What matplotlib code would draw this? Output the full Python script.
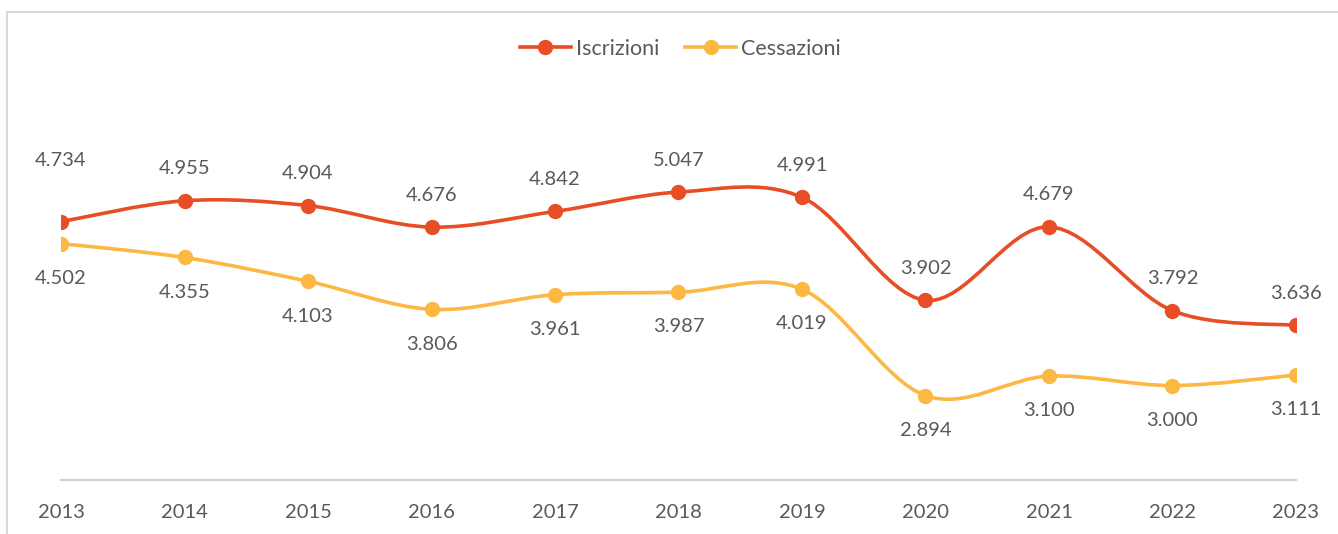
import matplotlib
matplotlib.use("Agg")
import matplotlib.pyplot as plt
from matplotlib.path import Path
from matplotlib.patches import PathPatch, Rectangle
from matplotlib.lines import Line2D

plt.rcParams['font.family'] = ['Lato', 'DejaVu Sans']

# data
years = [2013, 2014, 2015, 2016, 2017, 2018, 2019, 2020, 2021, 2022, 2023]
iscrizioni = [4734, 4955, 4904, 4676, 4842, 5047, 4991, 3902, 4679, 3792, 3636]
cessazioni = [4502, 4355, 4103, 3806, 3961, 3987, 4019, 2894, 3100, 3000, 3111]

col_isc = '#E84E25'
col_ces = '#FDB843'
txt_col = '#595959'


def smooth_path(xs, ys):
    # Excel-like smoothed line: cubic Bezier with Catmull-Rom control points
    n = len(xs)
    verts = [(xs[0], ys[0])]
    codes = [Path.MOVETO]
    for i in range(n - 1):
        i0 = max(i - 1, 0)
        i3 = min(i + 2, n - 1)
        c1 = (xs[i] + (xs[i + 1] - xs[i0]) / 6, ys[i] + (ys[i + 1] - ys[i0]) / 6)
        c2 = (xs[i + 1] - (xs[i3] - xs[i]) / 6, ys[i + 1] - (ys[i3] - ys[i]) / 6)
        verts += [c1, c2, (xs[i + 1], ys[i + 1])]
        codes += [Path.CURVE4] * 3
    return Path(verts, codes)


def fmt(v):
    return f"{v:,}".replace(",", ".")


fig = plt.figure(figsize=(13.38, 5.34), dpi=100)
ax = fig.add_axes([0.0456, 0.101, 0.923, 0.708])

for ys, c in [(iscrizioni, col_isc), (cessazioni, col_ces)]:
    ax.add_patch(PathPatch(smooth_path(years, ys), fill=False, ec=c, lw=2.6,
                           capstyle='round', zorder=2))
    ax.plot(years, ys, 'o', color=c, markersize=10, zorder=3)

# data labels
for i, (x, v) in enumerate(zip(years, iscrizioni)):
    off = 44 if i == 0 else 23
    ax.annotate(fmt(v), (x, v), xytext=(0, off), textcoords='offset points',
                ha='center', va='center', fontsize=14.5, color=txt_col)
for x, v in zip(years, cessazioni):
    ax.annotate(fmt(v), (x, v), xytext=(0, -25), textcoords='offset points',
                ha='center', va='center', fontsize=14.5, color=txt_col)

ax.set_xlim(2013, 2023)
ax.set_ylim(2000, 6000)
ax.set_xticks(years)
ax.set_xticklabels([str(y) for y in years])
ax.set_yticks([])
ax.tick_params(axis='x', length=0, pad=17, labelsize=14.5, labelcolor=txt_col)
for s in ['top', 'right', 'left']:
    ax.spines[s].set_visible(False)
ax.spines['bottom'].set_color('#D0D0D0')
ax.spines['bottom'].set_linewidth(1.5)

handles = [Line2D([], [], color=col_isc, lw=2.6, marker='o', markersize=10),
           Line2D([], [], color=col_ces, lw=2.6, marker='o', markersize=10)]
leg = fig.legend(handles, ['Iscrizioni', 'Cessazioni'], loc='center',
                 bbox_to_anchor=(680 / 1338, 1 - 49 / 534), ncol=2, frameon=False,
                 fontsize=15.5, handlelength=2.4, handletextpad=0.2, columnspacing=1.2)
for t in leg.get_texts():
    t.set_color(txt_col)

# chart frame
fig.add_artist(Rectangle((7 / 1338, -0.1), 1.2, 1.1 - 12 / 534, transform=fig.transFigure,
                         fill=False, ec='#D9D9D9', lw=1.5))

fig.savefig('out.png', dpi=100, facecolor='white')
